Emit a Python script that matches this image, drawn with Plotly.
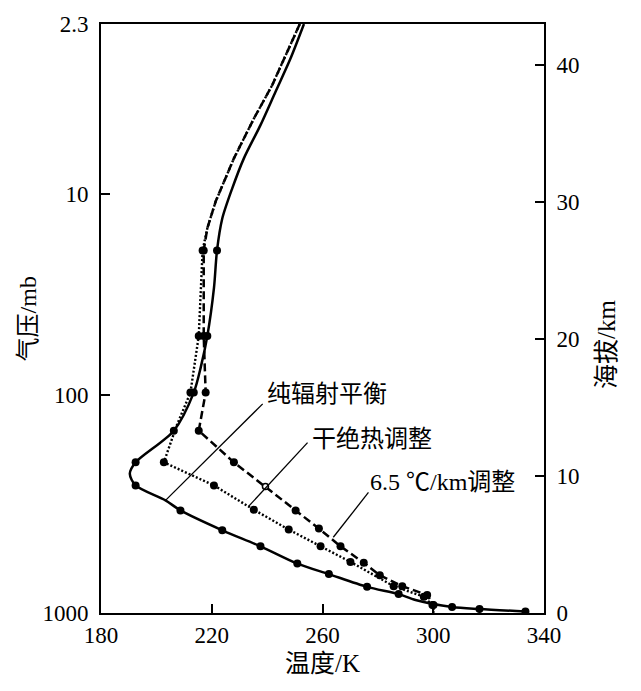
import plotly.graph_objects as go

# ---- axis data ----
temp_ticks = [180, 220, 260, 300, 340]
height_ticks = [0, 10, 20, 30, 40]
pressure_labels = ["1000", "100", "10", "2.3"]
pressure_heights_km = [0.0, 15.9, 30.6, 43.0]

# ---- pure radiative equilibrium (solid) ----
rad_T = [253.3, 248.4, 243.0, 237.6, 231.6, 227.4, 223.8, 221.9, 220.8, 218.4,
         216.0, 213.5, 206.3, 192.5, 190.4, 192.5, 203.3, 208.7, 223.8, 237.6,
         250.9, 262.3, 276.1, 287.5, 293.6, 306.8, 316.7, 333.3]
rad_z = [43.0, 40.46, 38.04, 35.62, 33.19, 31.0, 28.8, 26.47, 23.73, 20.22,
         17.91, 16.09, 13.31, 11.0, 10.16, 9.31, 8.22, 7.49, 6.04, 4.87,
         3.61, 2.84, 1.91, 1.38, 0.95, 0.44, 0.29, 0.11]
rad_marked = [7, 9, 11, 12, 13, 15, 17, 18, 19, 20, 21, 22, 23, 25, 26, 27]

# ---- dry adiabatic adjustment (dotted) ----
dry_T = [251.8, 241.8, 235.2, 228.0, 221.4, 218.4, 216.7, 216.0, 215.3, 212.3,
         207.3, 202.7, 220.8, 235.2, 247.8, 259.3, 270.1, 285.7, 296.6, 299.7, 300.1]
dry_z = [43.0, 38.52, 36.09, 33.19, 30.04, 28.09, 26.47, 23.73, 20.22, 16.09,
         13.67, 11.0, 9.31, 7.54, 6.09, 4.87, 3.73, 1.96, 1.19, 0.58, 0.0]
dry_marked = [6, 8, 9, 11, 12, 13, 14, 15, 16, 17, 18, 19]

# ---- 6.5 K/km adjustment (dashed) ----
lap_T = [251.8, 241.8, 235.2, 228.0, 221.4, 218.4, 217.1, 217.1, 217.8, 215.3,
         228.0, 239.4, 250.3, 258.7, 266.5, 274.9, 280.7, 288.8, 297.8, 300.1, 300.0]
lap_z = [43.0, 38.52, 36.09, 33.19, 30.04, 28.09, 26.47, 20.22, 16.09, 13.31,
         11.0, 9.24, 7.49, 6.16, 4.87, 3.66, 2.76, 1.96, 1.31, 0.58, 0.0]
lap_marked = [6, 7, 8, 9, 10, 11, 12, 13, 14, 15, 16, 17, 18, 19]
lap_open = [11]

FONT = "Liberation Serif, 'Noto Sans CJK SC', serif"


def pick(vals, idx):
    return [vals[i] for i in idx]


fig = go.Figure()

# dashed curve
fig.add_trace(go.Scatter(x=lap_T, y=lap_z, mode="lines",
                         line=dict(color="black", width=2.5, dash="8px,4px"),
                         hoverinfo="skip", showlegend=False))
lap_solid_idx = [i for i in lap_marked if i not in lap_open]
fig.add_trace(go.Scatter(x=pick(lap_T, lap_solid_idx), y=pick(lap_z, lap_solid_idx),
                         mode="markers", marker=dict(color="black", size=8),
                         hoverinfo="skip", showlegend=False))
fig.add_trace(go.Scatter(x=pick(lap_T, lap_open), y=pick(lap_z, lap_open),
                         mode="markers",
                         marker=dict(color="white", size=6, symbol="circle",
                                     line=dict(color="black", width=1.5)),
                         hoverinfo="skip", showlegend=False))

# dotted curve
fig.add_trace(go.Scatter(x=dry_T, y=dry_z, mode="lines",
                         line=dict(color="black", width=2.4, dash="2px,2px"),
                         hoverinfo="skip", showlegend=False))
fig.add_trace(go.Scatter(x=pick(dry_T, dry_marked), y=pick(dry_z, dry_marked),
                         mode="markers", marker=dict(color="black", size=8),
                         hoverinfo="skip", showlegend=False))

# solid curve
fig.add_trace(go.Scatter(x=rad_T, y=rad_z, mode="lines",
                         line=dict(color="black", width=2.5, shape="spline", smoothing=0.8),
                         hoverinfo="skip", showlegend=False))
fig.add_trace(go.Scatter(x=pick(rad_T, rad_marked), y=pick(rad_z, rad_marked),
                         mode="markers", marker=dict(color="black", size=8),
                         hoverinfo="skip", showlegend=False))

# invisible trace to activate right axis
fig.add_trace(go.Scatter(x=[temp_ticks[0]], y=[height_ticks[0]], yaxis="y2",
                         mode="markers", marker=dict(opacity=0),
                         hoverinfo="skip", showlegend=False))

# leader lines + labels
labels = [
    ("纯辐射平衡", (239.4, 16.0), (238.4, 15.27), (203.3, 8.22)),
    ("干绝热调整", (255.6, 12.73), (254.6, 12.44), (233.3, 7.78)),
    ("6.5 ℃/km调整", (276.6, 9.55), (276.6, 8.8), (263.9, 5.53)),
]
for text, (tx, ty), (x0, y0), (x1, y1) in labels:
    fig.add_shape(type="line", x0=x0, y0=y0, x1=x1, y1=y1, xref="x", yref="y",
                  line=dict(color="black", width=1.3))
    fig.add_annotation(x=tx, y=ty, xref="x", yref="y", text=text, showarrow=False,
                       xanchor="left", yanchor="middle",
                       font=dict(family=FONT, size=24, color="black"))

# axis titles
fig.add_annotation(x=0.5, y=-0.085, xref="paper", yref="paper", text="温度/K",
                   showarrow=False, xanchor="center", yanchor="middle",
                   font=dict(family=FONT, size=25, color="black"))
fig.add_annotation(x=-0.165, y=0.50, xref="paper", yref="paper", text="气压/mb",
                   showarrow=False, textangle=-90, xanchor="center", yanchor="middle",
                   font=dict(family=FONT, size=24, color="black"))
fig.add_annotation(x=1.14, y=0.455, xref="paper", yref="paper", text="海拔/km",
                   showarrow=False, textangle=-90, xanchor="center", yanchor="middle",
                   font=dict(family=FONT, size=25, color="black"))

axis_common = dict(showgrid=False, zeroline=False, showline=True, linecolor="black",
                   linewidth=2, ticks="inside", ticklen=9, tickwidth=1.5,
                   tickcolor="black", tickfont=dict(family=FONT, size=23, color="black"))

fig.update_layout(
    width=641, height=691,
    margin=dict(l=101, r=97, t=22, b=78),
    paper_bgcolor="white", plot_bgcolor="white",
    xaxis=dict(range=[temp_ticks[0], temp_ticks[-1]], tickvals=temp_ticks,
               mirror=True, ticklabelstandoff=0, **axis_common),
    yaxis=dict(range=[pressure_heights_km[0], pressure_heights_km[-1]],
               tickvals=pressure_heights_km, ticktext=pressure_labels,
               ticklabelstandoff=6, **axis_common),
    yaxis2=dict(range=[pressure_heights_km[0], pressure_heights_km[-1]],
                tickvals=height_ticks, overlaying="y", side="right",
                ticklabelstandoff=6, **axis_common),
)

fig.write_html("out.html")
